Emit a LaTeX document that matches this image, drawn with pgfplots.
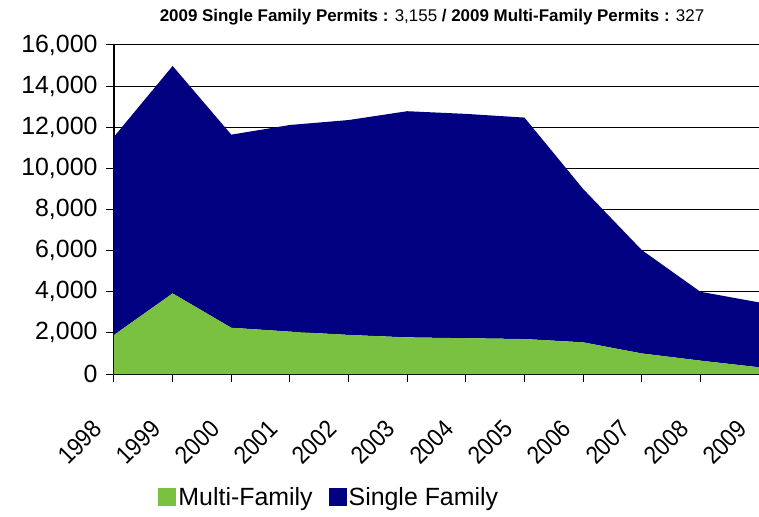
\documentclass[border=0pt]{standalone}
\usepackage{fontspec}
\setmainfont{Liberation Sans}
\newfontfamily\narrowfont[FakeStretch=0.9]{Liberation Sans}
\usepackage{pgfplots}
\pgfplotsset{compat=1.18}
\definecolor{mfgreen}{RGB}{122,193,66}
\definecolor{sfnavy}{RGB}{0,0,128}
\begin{document}
\begin{tikzpicture}
\begin{axis}[
  scale only axis, width=645bp, height=329bp,
  xmin=0, xmax=11, ymin=0, ymax=16000,
  stack plots=y,
  axis x line*=bottom, axis y line*=left,
  axis line style={-, black, line width=1.2bp},
  xtick={0,...,11},
  xticklabels={1998,1999,2000,2001,2002,2003,2004,2005,2006,2007,2008,2009},
  ytick={0,2000,...,16000},
  scaled y ticks=false,
  ymajorgrids, grid style={black, line width=1bp},
  tick align=outside, major tick length=8bp,
  tick style={black, line width=1bp},
  /pgf/number format/assume math mode=true,
  /pgf/number format/1000 sep={,},
  yticklabel style={font=\fontsize{25}{27}\selectfont, xshift=-5bp},
  xticklabel style={font=\narrowfont\fontsize{25}{27}\selectfont, xshift=-14bp, rotate=45, anchor=east},
  xticklabel shift=40bp,
  title={\textbf{2009 Single Family Permits :} 3,155 \textbf{/ 2009 Multi-Family Permits :} 327},
  title style={at={(0.493,1)}, anchor=south, yshift=10bp, font=\fontsize{17}{19}\selectfont},
  legend columns=2,
  legend style={draw=none, at={(0.064,-0.374)}, anchor=west, font=\fontsize{25}{27}\selectfont,
    /tikz/every even column/.append style={column sep=14bp}},
  legend image code/.code={\fill[#1] (0bp,-9bp) rectangle (18bp,9bp);},
]
\coordinate (O) at (rel axis cs:0,0);
\addplot[fill=mfgreen, draw=none] coordinates {
(0,1900) (1,3920) (2,2250) (3,2060) (4,1900) (5,1780) (6,1740) (7,1700) (8,1540) (9,1000) (10,650) (11,327)
} \closedcycle;
\addlegendentry{Multi-Family}
\addplot[fill=sfnavy, draw=none] coordinates {
(0,9640) (1,11060) (2,9390) (3,10050) (4,10450) (5,11000) (6,10910) (7,10770) (8,7460) (9,5030) (10,3350) (11,3155)
} \closedcycle;
\addlegendentry{Single Family}
\end{axis}
\pgfresetboundingbox
\path (O) ++(-114bp,-143bp) rectangle ++(759bp,517bp);
\end{tikzpicture}
\end{document}
